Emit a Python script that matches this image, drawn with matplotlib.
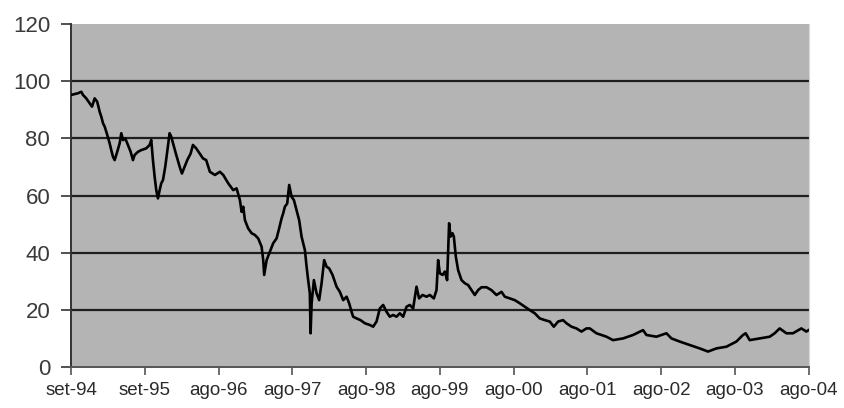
import matplotlib.pyplot as plt

# time in years since set-94
t = [0.004, 0.095, 0.140, 0.163, 0.207, 0.253, 0.285, 0.321, 0.356, 0.389,
     0.411, 0.434, 0.457, 0.492, 0.524, 0.546, 0.569, 0.592, 0.627, 0.660,
     0.682, 0.705, 0.736, 0.772, 0.809, 0.840, 0.863, 0.908, 0.953, 1.020,
     1.066, 1.088, 1.111, 1.134, 1.156, 1.179, 1.202, 1.224, 1.247, 1.278,
     1.314, 1.337, 1.359, 1.396, 1.427, 1.473, 1.504, 1.541, 1.576, 1.622,
     1.653, 1.698, 1.744, 1.789, 1.833, 1.883, 1.951, 2.019, 2.064, 2.131,
     2.199, 2.245, 2.290, 2.313, 2.335, 2.358, 2.402, 2.449, 2.493, 2.538,
     2.584, 2.606, 2.619, 2.652, 2.696, 2.741, 2.787, 2.822, 2.855, 2.877,
     2.900, 2.931, 2.958, 2.990, 3.022, 3.058, 3.093, 3.126, 3.171, 3.194,
     3.215, 3.238, 3.248, 3.262, 3.293, 3.329, 3.364, 3.397, 3.432, 3.465,
     3.500, 3.546, 3.600, 3.645, 3.690, 3.736, 3.771, 3.804, 3.825, 3.871,
     3.925, 3.984, 4.051, 4.096, 4.142, 4.187, 4.232, 4.278, 4.322, 4.367,
     4.413, 4.458, 4.503, 4.549, 4.593, 4.638, 4.684, 4.719, 4.766, 4.820,
     4.864, 4.919, 4.955, 4.977, 5.000, 5.037, 5.068, 5.099, 5.126, 5.145,
     5.172, 5.190, 5.217, 5.248, 5.294, 5.339, 5.383, 5.429, 5.474, 5.519,
     5.565, 5.633, 5.700, 5.768, 5.836, 5.881, 5.949, 6.016, 6.084, 6.152,
     6.220, 6.287, 6.355, 6.423, 6.491, 6.545, 6.603, 6.671, 6.717, 6.785,
     6.852, 6.920, 6.988, 7.033, 7.123, 7.259, 7.348, 7.484, 7.619, 7.755,
     7.801, 7.936, 8.072, 8.140, 8.252, 8.388, 8.523, 8.636, 8.749, 8.885,
     9.020, 9.110, 9.146, 9.201, 9.336, 9.472, 9.539, 9.607, 9.698, 9.787,
     9.901, 9.969, 10.0]
val = [95.2, 95.8, 96.3, 95.2, 94.0, 92.3, 91.1, 94.0, 92.8, 89.3,
       87.6, 85.3, 84.1, 81.2, 78.3, 75.9, 73.6, 72.4, 75.3, 78.3,
       81.8, 79.4, 80.0, 77.7, 75.3, 72.4, 74.2, 75.3, 75.9, 76.5,
       77.7, 79.4, 72.4, 66.6, 61.9, 59.0, 61.9, 64.3, 65.4, 70.1,
       77.1, 81.8, 80.6, 77.1, 74.2, 70.1, 67.7, 70.1, 72.4, 74.7,
       77.7, 76.5, 74.7, 73.0, 72.4, 68.3, 67.2, 68.3, 67.2, 64.3,
       61.9, 62.5, 58.4, 54.3, 56.1, 51.4, 48.5, 46.8, 46.2, 45.0,
       42.1, 37.4, 32.2, 37.4, 40.3, 43.3, 45.0, 48.5, 52.0, 53.8,
       56.1, 57.2, 63.7, 59.6, 58.4, 54.9, 51.4, 45.6, 40.9, 35.1,
       30.4, 25.8, 11.8, 22.3, 30.4, 25.8, 23.4, 29.3, 37.4, 35.1,
       34.5, 32.2, 28.1, 26.3, 23.4, 24.6, 22.3, 19.3, 17.6, 17.0,
       16.4, 15.3, 14.7, 14.1, 15.9, 20.5, 21.7, 19.3, 17.6, 18.2,
       17.6, 18.8, 17.6, 21.1, 21.7, 20.5, 28.1, 24.0, 25.2, 24.6,
       25.2, 24.0, 26.9, 37.4, 32.8, 32.2, 33.4, 30.4, 50.3, 45.6,
       46.8, 45.6, 38.6, 33.9, 30.4, 29.3, 28.7, 26.9, 25.2, 26.9,
       27.9, 27.9, 26.9, 25.2, 26.3, 24.6, 24.0, 23.4, 22.3, 21.1,
       19.9, 18.8, 17.0, 16.4, 15.9, 14.1, 15.9, 16.4, 15.3, 14.1,
       13.5, 12.4, 13.5, 13.5, 11.8, 10.6, 9.4, 10.0, 11.2, 12.9,
       11.2, 10.6, 11.8, 10.0, 8.9, 7.7, 6.5, 5.4, 6.5, 7.1,
       8.9, 11.2, 11.8, 9.4, 10.0, 10.6, 11.8, 13.5, 11.8, 11.8,
       13.5, 12.4, 12.9]

tick_labels = ['set-94', 'set-95', 'ago-96', 'ago-97', 'ago-98', 'ago-99',
               'ago-00', 'ago-01', 'ago-02', 'ago-03', 'ago-04']

plt.rcParams['font.family'] = ['Liberation Sans', 'DejaVu Sans']

fig = plt.figure(figsize=(8.45, 4.08), dpi=100)
ax = fig.add_axes([0.084, 0.1005, 0.873, 0.8405])
ax.set_facecolor('#b4b4b4')

for yv in range(20, 120, 20):
    ax.axhline(yv, color='#1e1e1e', lw=1.6, zorder=1)

ax.plot(t, val, color='black', lw=1.9, zorder=3)

ax.set_xlim(0, 10)
ax.set_ylim(0, 120)
ax.set_yticks(range(0, 121, 20))
ax.set_xticks(range(len(tick_labels)))
ax.set_xticklabels(tick_labels, fontsize=13.5)
ax.tick_params(axis='y', labelsize=16, length=7, width=1.2, pad=8, color='#333333')
ax.tick_params(axis='x', length=6, width=1.2, pad=5, color='#555555')
for lab in ax.get_xticklabels():
    lab.set_color('#2a2a2a')
for lab in ax.get_yticklabels():
    lab.set_color('#3a3a3a')

ax.spines['top'].set_visible(False)
ax.spines['right'].set_color('#d8d8d8')
ax.spines['left'].set_color('#333333')
ax.spines['left'].set_linewidth(1.4)
ax.spines['bottom'].set_color('#555555')
ax.spines['bottom'].set_linewidth(1.4)

fig.savefig('out.png', dpi=100)
